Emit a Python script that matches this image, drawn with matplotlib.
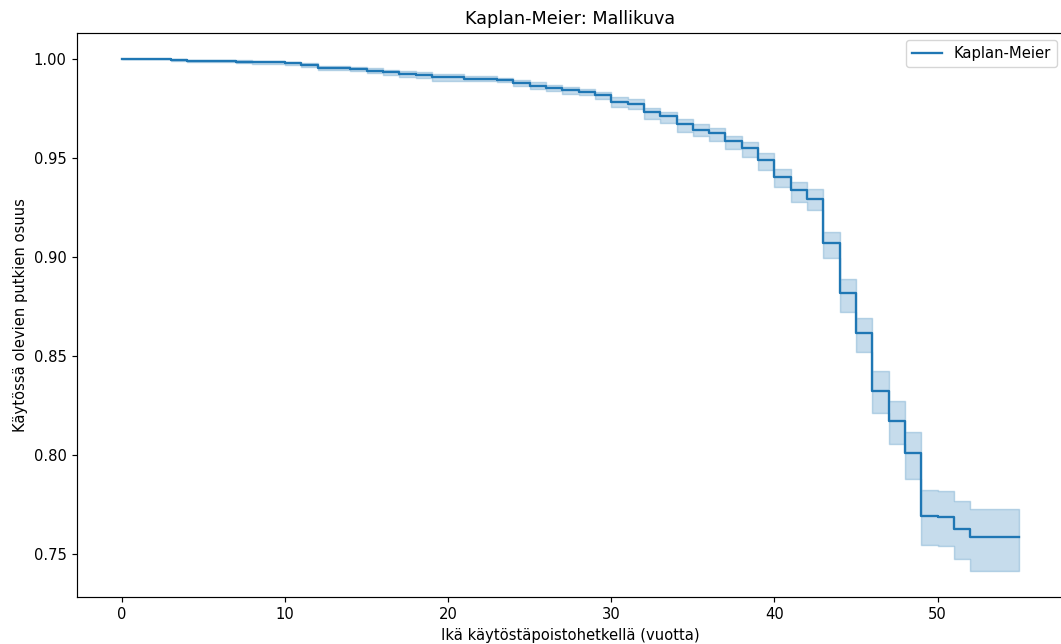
import matplotlib
matplotlib.use("Agg")
import matplotlib.pyplot as plt

# Kaplan-Meier estimate (step-post)
times = [0, 3, 4, 7, 8, 10, 11, 12, 14, 15, 16, 17, 18, 19, 21, 23, 24, 25, 26, 27,
         28, 29, 30, 31, 32, 33, 34, 35, 36, 37, 38, 39, 40, 41, 42, 43, 44, 45, 46,
         47, 48, 49, 50, 51, 52, 55]
survival = [1.0, .9995, .9990, .9985, .9982, .9976, .9969, .9955, .9949, .9940, .9932,
            .9924, .9916, .9906, .9898, .9891, .9877, .9864, .9852, .9840, .9830, .9814,
            .9782, .9772, .9729, .9709, .9671, .9642, .9625, .9583, .9550, .9487, .9404,
            .9336, .9293, .9068, .8816, .8614, .8323, .8172, .8008, .7693, .7685, .7626,
            .7582, .7582]
ci_upper = [1.0, .9998, .9995, .9991, .9989, .9984, .9978, .9965, .9960, .9952, .9945,
            .9937, .9930, .9921, .9911, .9903, .9894, .9881, .9869, .9857, .9847, .9833,
            .9805, .9795, .9751, .9731, .9695, .9670, .9650, .9610, .9580, .9521, .9444,
            .9378, .9340, .9125, .8886, .8690, .8424, .8273, .8117, .7824, .7819, .7766,
            .7727, .7727]
ci_lower = [1.0, .9990, .9984, .9978, .9974, .9967, .9959, .9944, .9937, .9927, .9918,
            .9909, .9900, .9889, .9886, .9881, .9860, .9846, .9835, .9822, .9814, .9797,
            .9758, .9748, .9697, .9675, .9631, .9610, .9585, .9542, .9505, .9437, .9353,
            .9278, .9235, .8995, .8723, .8517, .8211, .8054, .7875, .7545, .7539, .7471,
            .7411, .7411]

title = "Kaplan-Meier: Mallikuva"
xlabel = "Ikä käytöstäpoistohetkellä (vuotta)"
ylabel = "Käytössä olevien putkien osuus"
label = "Kaplan-Meier"

dpi = 100
s = 1.06  # scale relative to default 10pt text
plt.rcParams.update({
    "font.size": 10 * s,
    "axes.linewidth": 0.8 * s,
    "xtick.major.size": 3.5 * s,
    "ytick.major.size": 3.5 * s,
    "xtick.major.width": 0.8 * s,
    "ytick.major.width": 0.8 * s,
    "xtick.major.pad": 3.5 * s,
    "ytick.major.pad": 3.5 * s,
})

fig = plt.figure(figsize=(1061 / dpi, 644 / dpi), dpi=dpi)
ax = fig.add_axes([77 / 1061, 47 / 644, 987 / 1061, 564 / 644])

color = "#1f77b4"
ax.plot(times, survival, drawstyle="steps-post", color=color, lw=1.5 * s * 1.05,
        label=label)
ax.fill_between(times, ci_lower, ci_upper, step="post", color=color, alpha=0.25,
                linewidth=1.0 * s)

ax.set_title(title, fontsize=12 * s, pad=6 * s)
ax.set_xlabel(xlabel, fontsize=10 * s, labelpad=4 * s)
ax.set_ylabel(ylabel, fontsize=10 * s, labelpad=4 * s)
ax.tick_params(labelsize=10 * s)
ax.legend(loc="upper right", fontsize=10 * s)

fig.savefig("out.png", dpi=dpi)
